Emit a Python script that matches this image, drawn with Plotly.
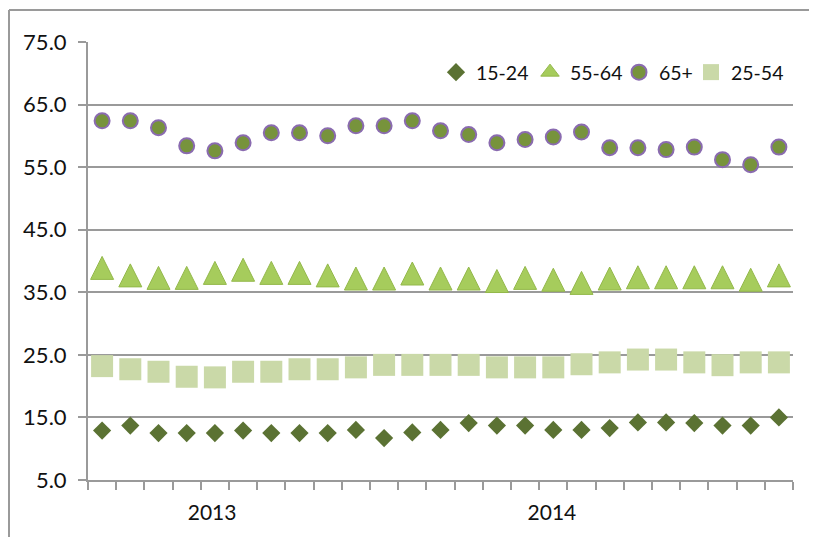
import plotly.graph_objects as go

# 25 monthly observations
periods = list(range(25))
year_tick_pos = [3.9, 15.95]
year_labels = ["2013", "2014"]

age_15_24 = [12.9, 13.7, 12.5, 12.5, 12.5, 12.9, 12.5, 12.5, 12.5, 13.0, 11.7, 12.6, 13.0,
             14.1, 13.7, 13.7, 13.0, 13.0, 13.3, 14.2, 14.2, 14.1, 13.7, 13.7, 15.0]
age_55_64 = [38.9, 37.7, 37.3, 37.3, 38.1, 38.6, 38.1, 38.1, 37.7, 37.2, 37.2, 38.0, 37.2,
             37.2, 36.8, 37.3, 37.0, 36.5, 37.2, 37.4, 37.4, 37.4, 37.4, 37.0, 37.7]
age_65_plus = [62.4, 62.4, 61.3, 58.4, 57.6, 58.9, 60.5, 60.5, 60.0, 61.6, 61.6, 62.4, 60.8,
               60.2, 58.9, 59.4, 59.8, 60.6, 58.1, 58.1, 57.8, 58.2, 56.2, 55.4, 58.2]
age_25_54 = [23.2, 22.7, 22.3, 21.5, 21.4, 22.3, 22.3, 22.7, 22.7, 23.0, 23.4, 23.4, 23.4,
             23.4, 23.0, 23.0, 23.0, 23.5, 23.8, 24.25, 24.25, 23.8, 23.35, 23.8, 23.8]

y_ticks = [5, 15, 25, 35, 45, 55, 65, 75]

FONT = "Lato, 'Open Sans', sans-serif"
GRID = "#9a9a9a"
TRI_FILL = "#a6cc5c"
TRI_LINE = "#93b84a"

# page body has an 8px margin, so figure is 809x529 and sits at (8, 8)
W, H = 809, 529
ML, MR, MT, MB = 80, 24, 34, 57
PW = W - ML - MR
PH = H - MT - MB


def px_to_paper_x(page_x):
    return (page_x - 8 - ML) / PW


fig = go.Figure()
fig.add_trace(go.Scatter(
    x=periods, y=age_15_24, name="15-24", mode="markers", legend="legend",
    marker=dict(symbol="diamond", size=14, color="#5b7233", line=dict(width=0)),
))
fig.add_trace(go.Scatter(
    x=periods, y=age_55_64, name="55-64", mode="markers", showlegend=False,
    marker=dict(symbol="arrow-down", size=23, angle=180, standoff=11.5,
                color=TRI_FILL, line=dict(width=1, color=TRI_LINE)),
))
fig.add_trace(go.Scatter(
    x=[None], y=[None], name="55-64", mode="markers", legend="legend2",
    marker=dict(symbol="triangle-up", size=16, color=TRI_FILL, line=dict(width=1, color=TRI_LINE)),
))
fig.add_trace(go.Scatter(
    x=periods, y=age_65_plus, name="65+", mode="markers", legend="legend3",
    marker=dict(symbol="circle", size=15, color="#77933c",
                line=dict(width=2, color="#8a6bb0")),
))
fig.add_trace(go.Scatter(
    x=periods, y=age_25_54, name="25-54", mode="markers", legend="legend4",
    marker=dict(symbol="square", size=22, color="#cad9a8", line=dict(width=0)),
))

legend_y = 0.975
sym_offset = 20  # symbol centre offset from legend's left edge (px)
legend_symbol_page_x = [456, 550, 639, 711]


def legend_box(px):
    return dict(orientation="h", x=px_to_paper_x(px - sym_offset), xanchor="left",
                y=legend_y, yanchor="top", font=dict(size=19.5),
                bgcolor="rgba(0,0,0,0)", itemwidth=30, borderwidth=0)


fig.update_layout(
    width=W, height=H,
    margin=dict(l=ML, r=MR, t=MT, b=MB, autoexpand=False),
    paper_bgcolor="white", plot_bgcolor="white",
    font=dict(family=FONT, size=21, color="#111111"),
    showlegend=True,
    legend=legend_box(legend_symbol_page_x[0]),
    legend2=legend_box(legend_symbol_page_x[1]),
    legend3=legend_box(legend_symbol_page_x[2]),
    legend4=legend_box(legend_symbol_page_x[3]),
    shapes=[
        dict(type="line", xref="paper", yref="paper", x0=-79 / PW, x1=1.1,
             y0=1 + (MT - 2) / PH, y1=1 + (MT - 2) / PH,
             line=dict(color=GRID, width=2)),
        dict(type="line", xref="paper", yref="paper", x0=-79 / PW, x1=-79 / PW,
             y0=1 + (MT - 2) / PH, y1=-0.2,
             line=dict(color=GRID, width=2)),
    ],
)

fig.update_xaxes(
    range=[-0.5, 24.5], showgrid=False, zeroline=False, automargin=False,
    showline=True, linecolor=GRID, linewidth=2,
    tickmode="array", tickvals=year_tick_pos, ticktext=year_labels,
    ticks="", ticklabelstandoff=13, tickfont=dict(size=21),
    minor=dict(tickmode="linear", tick0=-0.5, dtick=1, ticks="outside",
               ticklen=8, tickwidth=2, tickcolor=GRID, showgrid=False),
)
fig.update_yaxes(
    range=[5, 75], tickmode="array", tickvals=y_ticks, tickformat=".1f",
    showgrid=True, gridcolor=GRID, gridwidth=2, zeroline=False, automargin=False,
    showline=True, linecolor=GRID, linewidth=2,
    ticks="outside", ticklen=8, tickwidth=2, tickcolor=GRID,
    ticklabelstandoff=7, tickfont=dict(size=22),
)

fig.write_html("out.html")
